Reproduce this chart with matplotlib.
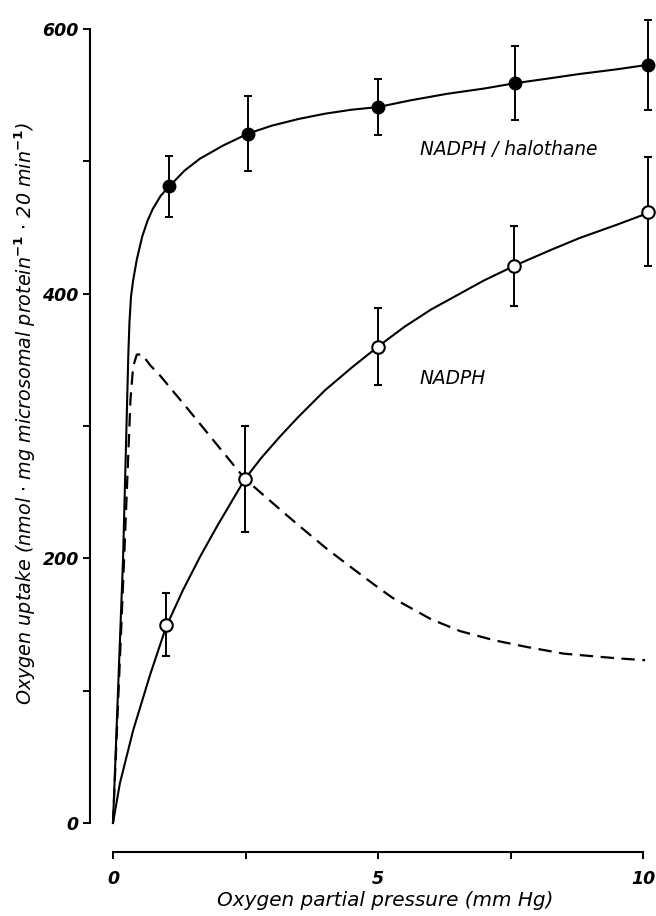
import numpy as np
import matplotlib
matplotlib.use("Agg")
import matplotlib.pyplot as plt

hal_x = [1.06, 2.55, 5.0, 7.58, 10.1]
hal_y = [481, 521, 541, 559, 573]
hal_err = [23, 28, 21, 28, 34]

nadph_x = [1.0, 2.49, 5.0, 7.57, 10.1]
nadph_y = [150, 260, 360, 421, 462]
nadph_err = [24, 40, 29, 30, 41]

# drawn curves
hal_curve_x = [0, 0.19, 0.29, 0.31, 0.34, 0.38, 0.45, 0.55, 0.65, 0.75, 0.9, 1.06,
               1.35, 1.64, 2.08, 2.55, 3.0, 3.5, 4.0, 4.5, 5.0, 5.6, 6.3, 7.0,
               7.58, 8.2, 8.8, 9.5, 10.1]
hal_curve_y = [0, 200, 355, 378, 398, 410, 426, 443, 455, 464, 474, 481,
               493, 502, 512, 521, 527, 532, 536, 539, 541, 546, 551, 555,
               559, 562.5, 566, 569.5, 573]

nadph_curve_x = [0, 0.13, 0.38, 0.7, 1.0, 1.32, 1.64, 1.96, 2.49, 2.8, 3.15, 3.5,
                 4.0, 4.5, 5.0, 5.5, 6.0, 6.5, 7.0, 7.57, 8.2, 8.8, 9.5, 10.1]
nadph_curve_y = [0, 30, 70, 112, 148, 176, 201, 224, 260, 276, 292, 307,
                 327, 344, 360, 375, 388, 399, 410, 421, 432, 442, 452, 461]

diff_x = [0, 0.2, 0.33, 0.38, 0.45, 0.55, 0.7, 0.89, 1.45, 2.0, 2.49, 3.15, 3.5,
          4.04, 4.5, 5.0, 5.28, 6.0, 6.55, 7.2, 7.81, 8.5, 9.06, 9.5, 10.04]
diff_y = [0, 190, 320, 345, 354, 354, 346, 338, 311, 284, 260, 237, 225,
          207, 193, 178, 170, 154, 145, 138, 133, 128, 126, 124.5, 123]

xticks = [0, 5, 10]
xminor = [2.5, 7.5]
yticks = [0, 200, 400, 600]
yminor = [100, 300, 500]

plt.rcParams['font.family'] = ['DejaVu Sans']

fig = plt.figure(figsize=(6.56, 9.16), dpi=100)
ax = fig.add_axes([113 / 656, 93 / 916, 530 / 656, 794 / 916])

ax.plot(hal_curve_x, hal_curve_y, color='black', lw=1.5, zorder=2, clip_on=False)
ax.plot(nadph_curve_x, nadph_curve_y, color='black', lw=1.5, zorder=2, clip_on=False)
ax.plot(diff_x, diff_y, color='black', lw=1.6, dashes=(6, 3.4), zorder=2, clip_on=False)

ax.errorbar(hal_x, hal_y, yerr=hal_err, fmt='o', color='black', ms=9,
            mfc='black', mec='black', elinewidth=1.4, capsize=3, capthick=1.4,
            zorder=4, clip_on=False)
ax.errorbar(nadph_x, nadph_y, yerr=nadph_err, fmt='o', color='black', ms=9,
            mfc='white', mec='black', mew=1.5, elinewidth=1.4, capsize=3,
            capthick=1.4, zorder=4, clip_on=False)

ax.text(5.79, 509, 'NADPH / halothane', fontsize=13.4, style='italic',
        ha='left', va='center')
ax.text(5.79, 336, 'NADPH', fontsize=13.4, style='italic', ha='left', va='center')

ax.set_xlim(0, 10)
ax.set_ylim(0, 600)

for side in ['top', 'right']:
    ax.spines[side].set_visible(False)
ax.spines['left'].set_position(('outward', 16.6))
ax.spines['bottom'].set_position(('outward', 20.9))
ax.spines['left'].set_bounds(0, 600)
ax.spines['bottom'].set_bounds(0, 10)
ax.spines['left'].set_linewidth(1.5)
ax.spines['bottom'].set_linewidth(1.5)

ax.set_xticks(xticks)
ax.set_xticks(xminor, minor=True)
ax.set_yticks(yticks)
ax.set_yticks(yminor, minor=True)
ax.set_xticklabels([str(v) for v in xticks], style='italic', fontweight='bold', fontsize=12.5)
ax.set_yticklabels([str(v) for v in yticks], style='italic', fontweight='bold', fontsize=12.5)
ax.tick_params(axis='both', which='both', length=5, width=1.4, direction='out')
ax.tick_params(axis='x', which='major', pad=8)
ax.tick_params(axis='y', which='major', pad=3)

ax.set_xlabel('Oxygen partial pressure (mm Hg)', fontsize=14.4, style='italic', va='center')
ax.xaxis.set_label_coords(0.513, -0.097)
ax.set_ylabel(r'Oxygen uptake (nmol $\cdot$ mg microsomal protein$^{\mathbf{-1}}$ $\cdot$ 20 min$^{\mathbf{-1}}$)',
              fontsize=13.8, style='italic', va='center')
ax.yaxis.set_label_coords(-0.166, 0.516)

fig.savefig('out.png', dpi=100)
